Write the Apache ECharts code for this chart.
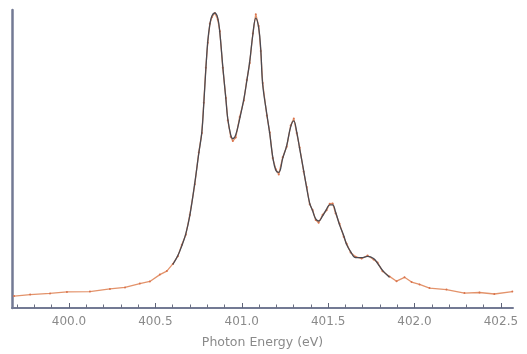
<!DOCTYPE html>
<html><head><meta charset="utf-8">
<script src="https://cdn.jsdelivr.net/npm/echarts@6/dist/echarts.min.js"></script>
<style>html,body{margin:0;padding:0;background:#fff}#c{width:527px;height:354px}</style>
</head><body><div id="c"></div>
<script>
// Photon energy (eV)
const energy = [399.682,399.775,399.890,399.988,400.121,400.237,400.324,400.410,400.468,400.526,400.566,400.601,400.630,400.653,400.676,400.699,400.728,400.751,400.769,400.780,400.792,400.803,400.815,400.827,400.844,400.861,400.873,400.890,400.908,400.919,400.936,400.948,400.965,400.988,401.012,401.029,401.046,401.064,401.081,401.098,401.110,401.121,401.145,401.162,401.179,401.197,401.214,401.237,401.260,401.283,401.301,401.318,401.335,401.358,401.376,401.393,401.410,401.428,401.445,401.468,401.491,401.509,401.526,401.543,401.566,401.590,401.607,401.630,401.659,401.694,401.728,401.763,401.786,401.815,401.855,401.896,401.942,401.983,402.029,402.087,402.185,402.289,402.376,402.462,402.566];
// Measured intensity (arb. units)
const measured = [4.0,4.5,4.9,5.4,5.5,6.4,6.9,8.2,8.9,11.2,12.4,14.8,17.4,21.2,24.6,31.2,41.5,52.2,58.7,68.9,80.6,89.0,95.4,97.6,99.0,96.8,92.9,80.6,70.5,63.0,57.5,56.0,57.2,64.1,69.6,76.5,82.2,92.1,98.6,94.6,86.2,75.5,64.6,58.9,50.3,46.6,44.8,50.6,54.1,61.2,63.6,58.7,53.9,45.8,40.6,34.8,32.9,29.5,28.6,31.3,32.8,35.0,35.1,31.8,28.3,23.9,21.6,18.6,17.2,16.6,17.6,16.3,15.3,12.3,10.6,9.0,10.3,8.7,7.9,6.7,6.2,5.0,5.2,4.7,5.5];
// Fitted intensity (arb. units), null where no fit drawn
const fit = [null,null,null,null,null,null,null,null,null,null,null,14.6,17.6,20.9,24.9,30.9,41.9,51.8,59.1,68.4,80.1,89.4,95.0,98.0,99.0,97.3,92.4,81.1,70.1,63.5,58.1,56.8,58.1,63.5,70.1,76.1,82.7,91.7,97.3,94.0,86.7,75.1,65.1,58.5,50.8,46.2,45.5,50.2,54.5,60.8,62.8,59.1,53.5,46.2,40.2,35.2,32.6,29.9,29.2,30.9,33.2,34.6,34.6,32.2,27.9,24.3,21.3,18.9,16.9,16.9,17.3,16.6,15.0,12.6,10.3,null,null,null,null,null,null,null,null,null,null];
const majorTicks = [400.0,400.5,401.0,401.5,402.0,402.5];
const minorTicks = [399.7,399.8,399.9,400.1,400.2,400.3,400.4,400.6,400.7,400.8,400.9,401.1,401.2,401.3,401.4,401.6,401.7,401.8,401.9,402.1,402.2,402.3,402.4];

const measuredData = energy.map((e,i)=>[e, measured[i]]);
const fitData = energy.map((e,i)=>[e, fit[i]]);
const axisCol = '#737a94';
const chart = echarts.init(document.getElementById('c'), null, {renderer:'canvas'});
chart.setOption({
  animation:false,
  grid:{left:12, right:14, top:10, bottom:43, containLabel:false},
  xAxis:[{
    type:'value', min:399.67, max:402.57,
    name:'Photon Energy (eV)', nameLocation:'middle', nameGap:28,
    nameTextStyle:{fontFamily:'DejaVu Sans', fontSize:12.5, color:'#8a8a8a'},
    axisLine:{lineStyle:{color:axisCol, width:2}},
    axisTick:{inside:true, length:5, customValues:majorTicks, lineStyle:{color:'#5e6378', width:1}},
    axisLabel:{customValues:majorTicks, margin:8, fontFamily:'DejaVu Sans', fontSize:12, color:'#8a8a8a', formatter:v=>v.toFixed(1)},
    splitLine:{show:false}
  },{
    type:'value', min:399.67, max:402.57, position:'bottom',
    axisLine:{show:false},
    axisTick:{inside:true, length:3.5, customValues:minorTicks, lineStyle:{color:'#6a6f82', width:1}},
    axisLabel:{show:false}, splitLine:{show:false}
  }],
  yAxis:{
    type:'value', min:0, max:100,
    axisLine:{show:true, lineStyle:{color:axisCol, width:2.5}},
    axisTick:{show:false}, axisLabel:{show:false}, splitLine:{show:false}
  },
  series:[{
    type:'line', data:measuredData, xAxisIndex:0,
    lineStyle:{color:'#e3936b', width:1.3},
    itemStyle:{color:'#d9734d'}, symbol:'circle', symbolSize:2, showSymbol:true, z:2
  },{
    type:'line', data:fitData, xAxisIndex:0, smooth:0.4, connectNulls:false,
    lineStyle:{color:'#4a4a52', width:1.3}, symbol:'none', z:3
  }]
});
</script></body></html>
